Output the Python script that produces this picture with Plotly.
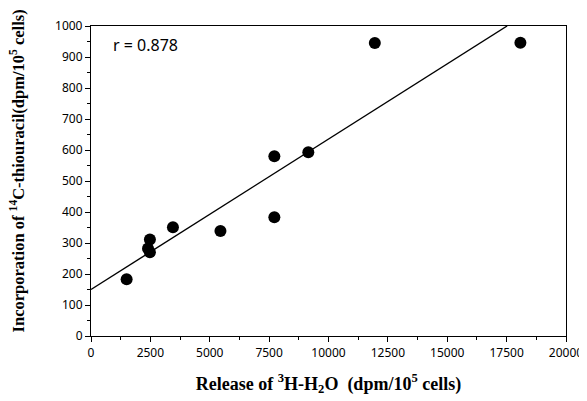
import plotly.graph_objects as go

# Data
release_3h = [1500, 2480, 2400, 2480, 3450, 5450, 7720, 7720, 9150, 11950, 18080]
incorp_14c = [183, 311, 282, 270, 351, 339, 580, 383, 593, 945, 946]

# Regression line (two end points)
fit_x = [0, 17520]
fit_y = [150, 1000]

r_label = "r = 0.878"
x_title = "<b>Release of <sup>3</sup>H-H<sub>2</sub>O  (dpm/10<sup>5</sup> cells)</b>"
y_title = "<b>Incorporation of <sup>14</sup>C-thiouracil(dpm/10<sup>5</sup> cells)</b>"

x_ticks = [0, 2500, 5000, 7500, 10000, 12500, 15000, 17500, 20000]
y_ticks = [0, 100, 200, 300, 400, 500, 600, 700, 800, 900, 1000]

fig = go.Figure()
fig.add_trace(go.Scatter(x=fit_x, y=fit_y, mode="lines",
                         line=dict(color="black", width=1.4), showlegend=False, hoverinfo="skip"))
fig.add_trace(go.Scatter(x=release_3h, y=incorp_14c, mode="markers",
                         marker=dict(color="black", size=12), showlegend=False))

tick_font = dict(family="Noto Sans, DejaVu Sans, sans-serif", size=12, color="black")
serif = "Liberation Serif, Times New Roman, serif"

fig.update_xaxes(range=[0, 20000], tickvals=x_ticks, ticktext=[str(v) for v in x_ticks],
                 ticks="outside", ticklen=5, tickwidth=1, tickcolor="black",
                 minor=dict(dtick=1250, tick0=0, ticks="outside", ticklen=3, tickcolor="black", showgrid=False),
                 showline=True, linecolor="black", linewidth=1.2, mirror=True,
                 showgrid=False, zeroline=False, tickfont=tick_font, automargin=False,
                 title=dict(text=x_title, font=dict(family=serif, size=18, color="black"), standoff=17))
fig.update_yaxes(range=[0, 1000], tickvals=y_ticks, ticktext=[str(v) for v in y_ticks],
                 ticks="outside", ticklen=5, tickwidth=1, tickcolor="black",
                 minor=dict(dtick=50, tick0=0, ticks="outside", ticklen=3, tickcolor="black", showgrid=False),
                 showline=True, linecolor="black", linewidth=1.2, mirror=True,
                 showgrid=False, zeroline=False, tickfont=tick_font, automargin=False)

fig.add_annotation(x=0, y=0.531, xref="paper", yref="paper", text=y_title, textangle=-90,
                   xshift=-74, showarrow=False, xanchor="center", yanchor="middle",
                   font=dict(family=serif, size=16.5, color="black"))

fig.add_annotation(x=0.042, y=0.94, xref="paper", yref="paper", text=r_label,
                   showarrow=False, xanchor="left", yanchor="middle",
                   font=dict(family="Noto Sans, DejaVu Sans, sans-serif", size=16, color="black"))

# page body has an 8px default margin, so the figure is made 8px smaller
fig.update_layout(width=579, height=393, plot_bgcolor="white", paper_bgcolor="white",
                  margin=dict(l=83, r=21, t=18, b=65))

fig.write_html("out.html")
